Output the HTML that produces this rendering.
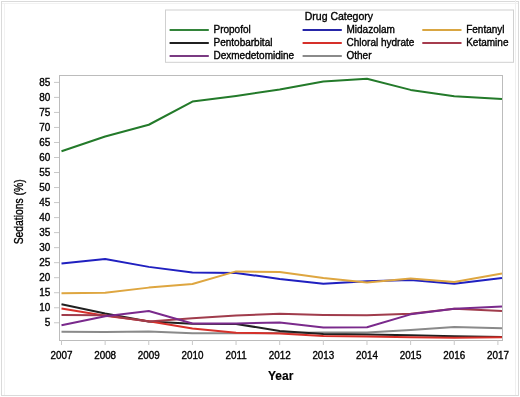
<!DOCTYPE html>
<html><head><meta charset="utf-8"><style>
html,body{margin:0;padding:0;background:#fff;}
body{width:520px;height:397px;overflow:hidden;}
svg{display:block;will-change:transform;}
text{font-family:"Liberation Sans", sans-serif;fill:#000;}
</style></head><body>
<svg width="520" height="397" viewBox="0 0 520 397">
<rect x="0" y="0" width="520" height="397" fill="#fff"/>

<rect x="1.5" y="1.5" width="517" height="394" fill="none" stroke="#dadada" stroke-width="1"/>
<line x1="4.5" y1="3" x2="4.5" y2="395" stroke="#f2f2f2" stroke-width="1"/>
<line x1="515.5" y1="0" x2="515.5" y2="395" stroke="#f0f0f0" stroke-width="1"/>
<line x1="2" y1="3.5" x2="518" y2="3.5" stroke="#f2f2f2" stroke-width="1"/>
<rect x="165.5" y="10" width="348" height="52.3" fill="#fff" stroke="#d0d0d0" stroke-width="1"/>
<text transform="translate(338.90,20.00) scale(1.0,1)" font-size="10.5" text-anchor="middle" font-weight="normal" stroke="#000" stroke-width="0.35">Drug Category</text>
<line x1="169.6" y1="30.0" x2="208.8" y2="30.0" stroke="#33843a" stroke-width="2"/>
<text transform="translate(213.50,32.60) scale(1.0,1)" font-size="10" text-anchor="start" font-weight="normal" stroke="#000" stroke-width="0.35">Propofol</text>
<line x1="302.6" y1="30.0" x2="341.8" y2="30.0" stroke="#2626a8" stroke-width="2"/>
<text transform="translate(346.50,32.60) scale(1.0,1)" font-size="10" text-anchor="start" font-weight="normal" stroke="#000" stroke-width="0.35">Midazolam</text>
<line x1="422.3" y1="30.0" x2="461.5" y2="30.0" stroke="#d9a642" stroke-width="2"/>
<text transform="translate(466.20,32.60) scale(1.0,1)" font-size="10" text-anchor="start" font-weight="normal" stroke="#000" stroke-width="0.35">Fentanyl</text>
<line x1="169.6" y1="43.0" x2="208.8" y2="43.0" stroke="#202020" stroke-width="2"/>
<text transform="translate(213.50,45.60) scale(1.0,1)" font-size="10" text-anchor="start" font-weight="normal" stroke="#000" stroke-width="0.35">Pentobarbital</text>
<line x1="302.6" y1="43.0" x2="341.8" y2="43.0" stroke="#d6302a" stroke-width="2"/>
<text transform="translate(346.50,45.60) scale(1.0,1)" font-size="10" text-anchor="start" font-weight="normal" stroke="#000" stroke-width="0.35">Chloral hydrate</text>
<line x1="422.3" y1="43.0" x2="461.5" y2="43.0" stroke="#a63c4e" stroke-width="2"/>
<text transform="translate(466.20,45.60) scale(1.0,1)" font-size="10" text-anchor="start" font-weight="normal" stroke="#000" stroke-width="0.35">Ketamine</text>
<line x1="169.6" y1="56.0" x2="208.8" y2="56.0" stroke="#7a3a82" stroke-width="2"/>
<text transform="translate(213.50,58.60) scale(1.0,1)" font-size="10" text-anchor="start" font-weight="normal" stroke="#000" stroke-width="0.35">Dexmedetomidine</text>
<line x1="302.6" y1="56.0" x2="341.8" y2="56.0" stroke="#8a8a8a" stroke-width="2"/>
<text transform="translate(346.50,58.60) scale(1.0,1)" font-size="10" text-anchor="start" font-weight="normal" stroke="#000" stroke-width="0.35">Other</text>
<rect x="59.5" y="75.5" width="443" height="265" fill="none" stroke="#bcbcbc" stroke-width="1"/>
<line x1="54" y1="322.78" x2="59" y2="322.78" stroke="#c8c8c8" stroke-width="1"/>
<text transform="translate(50.40,326.28) scale(0.95,1)" font-size="10.5" text-anchor="end" font-weight="normal" stroke="#000" stroke-width="0.35">5</text>
<line x1="54" y1="307.75" x2="59" y2="307.75" stroke="#c8c8c8" stroke-width="1"/>
<text transform="translate(50.40,311.25) scale(0.95,1)" font-size="10.5" text-anchor="end" font-weight="normal" stroke="#000" stroke-width="0.35">10</text>
<line x1="54" y1="292.73" x2="59" y2="292.73" stroke="#c8c8c8" stroke-width="1"/>
<text transform="translate(50.40,296.23) scale(0.95,1)" font-size="10.5" text-anchor="end" font-weight="normal" stroke="#000" stroke-width="0.35">15</text>
<line x1="54" y1="277.70" x2="59" y2="277.70" stroke="#c8c8c8" stroke-width="1"/>
<text transform="translate(50.40,281.20) scale(0.95,1)" font-size="10.5" text-anchor="end" font-weight="normal" stroke="#000" stroke-width="0.35">20</text>
<line x1="54" y1="262.68" x2="59" y2="262.68" stroke="#c8c8c8" stroke-width="1"/>
<text transform="translate(50.40,266.18) scale(0.95,1)" font-size="10.5" text-anchor="end" font-weight="normal" stroke="#000" stroke-width="0.35">25</text>
<line x1="54" y1="247.65" x2="59" y2="247.65" stroke="#c8c8c8" stroke-width="1"/>
<text transform="translate(50.40,251.15) scale(0.95,1)" font-size="10.5" text-anchor="end" font-weight="normal" stroke="#000" stroke-width="0.35">30</text>
<line x1="54" y1="232.62" x2="59" y2="232.62" stroke="#c8c8c8" stroke-width="1"/>
<text transform="translate(50.40,236.12) scale(0.95,1)" font-size="10.5" text-anchor="end" font-weight="normal" stroke="#000" stroke-width="0.35">35</text>
<line x1="54" y1="217.60" x2="59" y2="217.60" stroke="#c8c8c8" stroke-width="1"/>
<text transform="translate(50.40,221.10) scale(0.95,1)" font-size="10.5" text-anchor="end" font-weight="normal" stroke="#000" stroke-width="0.35">40</text>
<line x1="54" y1="202.58" x2="59" y2="202.58" stroke="#c8c8c8" stroke-width="1"/>
<text transform="translate(50.40,206.08) scale(0.95,1)" font-size="10.5" text-anchor="end" font-weight="normal" stroke="#000" stroke-width="0.35">45</text>
<line x1="54" y1="187.55" x2="59" y2="187.55" stroke="#c8c8c8" stroke-width="1"/>
<text transform="translate(50.40,191.05) scale(0.95,1)" font-size="10.5" text-anchor="end" font-weight="normal" stroke="#000" stroke-width="0.35">50</text>
<line x1="54" y1="172.53" x2="59" y2="172.53" stroke="#c8c8c8" stroke-width="1"/>
<text transform="translate(50.40,176.03) scale(0.95,1)" font-size="10.5" text-anchor="end" font-weight="normal" stroke="#000" stroke-width="0.35">55</text>
<line x1="54" y1="157.50" x2="59" y2="157.50" stroke="#c8c8c8" stroke-width="1"/>
<text transform="translate(50.40,161.00) scale(0.95,1)" font-size="10.5" text-anchor="end" font-weight="normal" stroke="#000" stroke-width="0.35">60</text>
<line x1="54" y1="142.48" x2="59" y2="142.48" stroke="#c8c8c8" stroke-width="1"/>
<text transform="translate(50.40,145.98) scale(0.95,1)" font-size="10.5" text-anchor="end" font-weight="normal" stroke="#000" stroke-width="0.35">65</text>
<line x1="54" y1="127.45" x2="59" y2="127.45" stroke="#c8c8c8" stroke-width="1"/>
<text transform="translate(50.40,130.95) scale(0.95,1)" font-size="10.5" text-anchor="end" font-weight="normal" stroke="#000" stroke-width="0.35">70</text>
<line x1="54" y1="112.43" x2="59" y2="112.43" stroke="#c8c8c8" stroke-width="1"/>
<text transform="translate(50.40,115.93) scale(0.95,1)" font-size="10.5" text-anchor="end" font-weight="normal" stroke="#000" stroke-width="0.35">75</text>
<line x1="54" y1="97.40" x2="59" y2="97.40" stroke="#c8c8c8" stroke-width="1"/>
<text transform="translate(50.40,100.90) scale(0.95,1)" font-size="10.5" text-anchor="end" font-weight="normal" stroke="#000" stroke-width="0.35">80</text>
<line x1="54" y1="82.38" x2="59" y2="82.38" stroke="#c8c8c8" stroke-width="1"/>
<text transform="translate(50.40,85.88) scale(0.95,1)" font-size="10.5" text-anchor="end" font-weight="normal" stroke="#000" stroke-width="0.35">85</text>
<line x1="61.50" y1="340" x2="61.50" y2="345" stroke="#c8c8c8" stroke-width="1"/>
<text transform="translate(61.50,358.60) scale(0.94,1)" font-size="10.5" text-anchor="middle" font-weight="normal" stroke="#000" stroke-width="0.35">2007</text>
<line x1="105.14" y1="340" x2="105.14" y2="345" stroke="#c8c8c8" stroke-width="1"/>
<text transform="translate(105.14,358.60) scale(0.94,1)" font-size="10.5" text-anchor="middle" font-weight="normal" stroke="#000" stroke-width="0.35">2008</text>
<line x1="148.78" y1="340" x2="148.78" y2="345" stroke="#c8c8c8" stroke-width="1"/>
<text transform="translate(148.78,358.60) scale(0.94,1)" font-size="10.5" text-anchor="middle" font-weight="normal" stroke="#000" stroke-width="0.35">2009</text>
<line x1="192.42" y1="340" x2="192.42" y2="345" stroke="#c8c8c8" stroke-width="1"/>
<text transform="translate(192.42,358.60) scale(0.94,1)" font-size="10.5" text-anchor="middle" font-weight="normal" stroke="#000" stroke-width="0.35">2010</text>
<line x1="236.06" y1="340" x2="236.06" y2="345" stroke="#c8c8c8" stroke-width="1"/>
<text transform="translate(236.06,358.60) scale(0.94,1)" font-size="10.5" text-anchor="middle" font-weight="normal" stroke="#000" stroke-width="0.35">2011</text>
<line x1="279.70" y1="340" x2="279.70" y2="345" stroke="#c8c8c8" stroke-width="1"/>
<text transform="translate(279.70,358.60) scale(0.94,1)" font-size="10.5" text-anchor="middle" font-weight="normal" stroke="#000" stroke-width="0.35">2012</text>
<line x1="323.34" y1="340" x2="323.34" y2="345" stroke="#c8c8c8" stroke-width="1"/>
<text transform="translate(323.34,358.60) scale(0.94,1)" font-size="10.5" text-anchor="middle" font-weight="normal" stroke="#000" stroke-width="0.35">2013</text>
<line x1="366.98" y1="340" x2="366.98" y2="345" stroke="#c8c8c8" stroke-width="1"/>
<text transform="translate(366.98,358.60) scale(0.94,1)" font-size="10.5" text-anchor="middle" font-weight="normal" stroke="#000" stroke-width="0.35">2014</text>
<line x1="410.62" y1="340" x2="410.62" y2="345" stroke="#c8c8c8" stroke-width="1"/>
<text transform="translate(410.62,358.60) scale(0.94,1)" font-size="10.5" text-anchor="middle" font-weight="normal" stroke="#000" stroke-width="0.35">2015</text>
<line x1="454.26" y1="340" x2="454.26" y2="345" stroke="#c8c8c8" stroke-width="1"/>
<text transform="translate(454.26,358.60) scale(0.94,1)" font-size="10.5" text-anchor="middle" font-weight="normal" stroke="#000" stroke-width="0.35">2016</text>
<line x1="497.90" y1="340" x2="497.90" y2="345" stroke="#c8c8c8" stroke-width="1"/>
<text transform="translate(497.90,358.60) scale(0.94,1)" font-size="10.5" text-anchor="middle" font-weight="normal" stroke="#000" stroke-width="0.35">2017</text>
<text transform="translate(280.70,379.60) scale(1.0,1)" font-size="12" text-anchor="middle" font-weight="bold" stroke="#000" stroke-width="0.15">Year</text>
<text transform="translate(23.0,211.8) rotate(-90) scale(0.83,1)" font-size="12.5" text-anchor="middle" stroke="#000" stroke-width="0.35">Sedations (%)</text>
<polyline points="61.50,151.19 105.14,136.47 148.78,124.75 192.42,101.61 236.06,95.90 279.70,89.59 323.34,81.47 366.98,78.77 410.62,89.89 454.26,96.20 502.00,98.90" fill="none" stroke="#237a2a" stroke-width="2" stroke-linejoin="round"/>
<polyline points="61.50,263.58 105.14,259.07 148.78,266.88 192.42,272.59 236.06,272.89 279.70,278.90 323.34,283.71 366.98,281.31 410.62,280.10 454.26,283.71 502.00,278.00" fill="none" stroke="#2020c0" stroke-width="2" stroke-linejoin="round"/>
<polyline points="61.50,293.33 105.14,292.73 148.78,287.62 192.42,284.01 236.06,271.39 279.70,271.99 323.34,278.00 366.98,282.51 410.62,278.60 454.26,281.91 502.00,273.49" fill="none" stroke="#dea640" stroke-width="2" stroke-linejoin="round"/>
<polyline points="61.50,331.79 105.14,332.09 148.78,331.49 192.42,333.29 236.06,333.29 279.70,332.99 323.34,332.39 366.98,332.39 410.62,329.99 454.26,326.98 502.00,328.18" fill="none" stroke="#8a8a8a" stroke-width="2" stroke-linejoin="round"/>
<polyline points="61.50,304.29 105.14,313.46 148.78,321.57 192.42,323.68 236.06,323.98 279.70,330.89 323.34,333.89 366.98,334.49 410.62,335.25 454.26,336.30 502.00,336.90" fill="none" stroke="#202020" stroke-width="2" stroke-linejoin="round"/>
<polyline points="61.50,308.50 105.14,315.86 148.78,321.27 192.42,328.48 236.06,332.69 279.70,333.59 323.34,336.00 366.98,336.60 410.62,337.20 454.26,337.65 502.00,337.20" fill="none" stroke="#d6302a" stroke-width="2" stroke-linejoin="round"/>
<polyline points="61.50,314.96 105.14,315.26 148.78,321.57 192.42,318.27 236.06,315.56 279.70,313.76 323.34,314.96 366.98,315.26 410.62,313.76 454.26,308.65 502.00,311.06" fill="none" stroke="#a03c4c" stroke-width="2" stroke-linejoin="round"/>
<polyline points="61.50,325.18 105.14,316.16 148.78,311.06 192.42,323.53 236.06,323.53 279.70,322.47 323.34,327.58 366.98,327.28 410.62,314.36 454.26,308.65 502.00,306.55" fill="none" stroke="#7a2a8c" stroke-width="2" stroke-linejoin="round"/>
</svg></body></html>
